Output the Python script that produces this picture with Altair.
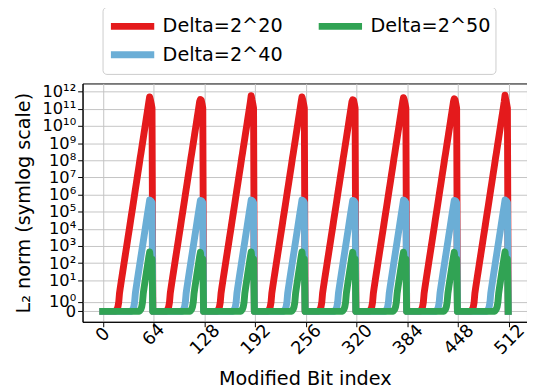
import math
import altair as alt
import pandas as pd

# ---------------- data ----------------
series_names = ["Delta=2^20", "Delta=2^40", "Delta=2^50"]
series_colors = ["#e41a1c", "#6baed6", "#31a354"]

n_blocks = 8
block_len = 64
peak_bit = 59

# L2 norm per modified bit inside one 64-bit block
red_block = [0] * 17 + [
    0.12, 0.23, 0.47, 0.93, 1.9, 3.7, 7.5, 15, 30, 60, 120, 240, 480, 950,
    1.9e3, 3.8e3, 7.6e3, 1.5e4, 3.1e4, 6.1e4, 1.2e5, 2.4e5, 4.9e5, 9.8e5,
    2.0e6, 3.9e6, 7.8e6, 1.6e7, 3.1e7, 6.3e7, 1.3e8, 2.5e8, 5.0e8, 1.0e9,
    2.0e9, 4.0e9, 8.0e9, 1.6e10, 3.2e10, 6.4e10, 1.3e11, 2.6e11,
    5.0e11, 3.3e11, 2.0e11, 1.1e11, 0,
]
blue_block = [0] * 37 + [
    0.12, 0.23, 0.47, 0.93, 1.9, 3.7, 7.5, 15, 30, 60, 120, 240, 480, 950,
    1.9e3, 3.8e3, 7.6e3, 1.5e4, 3.1e4, 6.1e4, 1.2e5, 2.4e5,
    4.8e5, 4.4e5, 4.0e5, 3.4e5, 0,
]
green_block = [0] * 47 + [
    0.12, 0.23, 0.47, 0.93, 1.9, 3.7, 7.5, 15, 30, 60, 120, 240,
    450, 160, 170, 170, 0,
]
# peak value of each of the 8 blocks
red_peaks = [5.0e11, 3.5e11, 5.8e11, 4.9e11, 3.4e11, 4.5e11, 3.9e11, 6.2e11]
blue_peaks = [4.8e5, 4.6e5, 4.8e5, 4.8e5, 4.6e5, 4.8e5, 4.6e5, 4.9e5]
green_peaks = [450, 430, 450, 450, 430, 440, 430, 460]

x_ticks = [0, 64, 128, 192, 256, 320, 384, 448, 512]
y_tick_values = [0, 1e0, 1e1, 1e2, 1e3, 1e4, 1e5, 1e6, 1e7, 1e8, 1e9, 1e10, 1e11, 1e12]
y_tick_labels = ["10⁰", "10¹", "10²", "10³", "10⁴", "10⁵", "10⁶", "10⁷",
                 "10⁸", "10⁹", "10¹⁰", "10¹¹", "10¹²"]

assert len(red_block) == len(blue_block) == len(green_block) == block_len

# ---------------- build table ----------------
rows = []
for name, block, peaks in zip(series_names, [red_block, blue_block, green_block],
                              [red_peaks, blue_peaks, green_peaks]):
    for k in range(n_blocks):
        for b in range(block_len):
            v = peaks[k] if b == peak_bit else block[b]
            rows.append({"bit": k * block_len + b, "l2": v, "series": name})
df = pd.DataFrame(rows)

# matplotlib-like symlog (base 10, linthresh 2, linscale 1)
LT = 2.0
LS = 1.0 / (1.0 - 0.1)


def symlog(v):
    return v / LT * LS if v <= LT else LS + math.log10(v / LT)


y_tick_pos = [symlog(v) for v in y_tick_values]
offset = LS - math.log10(LT)
arr = "[" + ",".join("'%s'" % s for s in y_tick_labels) + "]"
label_expr = ("datum.value < 0.2 ? '0' : (datum.value < 0.8 ? '10⁰' : %s[round(datum.value - %.6f)])"
              % (arr, offset))

calc = ("datum.l2 <= %g ? datum.l2 / %g * %.10f : %.10f + log(datum.l2 / %g) / LN10"
        % (LT, LT, LS, LS, LT))

FONT = "DejaVu Sans"

x_enc = alt.X(
    "bit:Q",
    scale=alt.Scale(domain=[-25.57, 534.7], nice=False, zero=False),
    axis=alt.Axis(
        values=x_ticks,
        title="Modified Bit index",
        titleY=64,
        titleBaseline="alphabetic",
        labelAngle=315,
        labelAlign="center",
        labelBaseline="middle",
        labelFontSize=18,
        labelPadding={"condition": {"test": "datum.value >= 100", "value": 13}, "value": 8},
        labelOffset={"condition": {"test": "datum.value >= 100", "value": 0.5}, "value": 0},
        labelOverlap=False,
        labelFlush=False,
    ),
)
y_enc = alt.Y(
    "yt:Q",
    scale=alt.Scale(domain=[-0.61, 13.29], nice=False, zero=False),
    axis=alt.Axis(
        values=y_tick_pos,
        labelExpr=label_expr,
        labelFontSize=16.5,
        title="\u00a0\u00a0\u00a0\u00a0L₂ norm (symlog scale)",
        titlePadding=9,
        labelPadding=2,
        labelOverlap=False,
        labelFlush=False,
    ),
)
color_enc = alt.Color(
    "series:N",
    scale=alt.Scale(domain=series_names, range=series_colors),
    legend=alt.Legend(
        title=None,
        orient="none",
        legendX=20.3,
        legendY=-77.7,
        columns=2,
        symbolType="M-2,0H2",
        symbolSize=484,
        symbolOffset=11,
        symbolStrokeWidth=7,
        labelFont=FONT,
        labelFontSize=19.5,
        labelColor="black",
        labelOffset=16,
        labelLimit=0,
        padding=5,
        rowPadding=-1,
        columnPadding=22,
        strokeColor="#cccccc",
        fillColor="white",
        cornerRadius=4,
    ),
)

base = alt.Chart(df).transform_calculate(yt=calc)
layers = [
    base.transform_filter(alt.datum.series == name)
    .mark_line(strokeWidth=7, strokeCap="square", strokeJoin="round", clip=True)
    .encode(x=x_enc, y=y_enc, color=color_enc)
    for name in series_names
]

chart = (
    alt.layer(*layers)
    .properties(
        width=451.3,
        height=242,
        autosize=alt.AutoSizeParams(type="none"),
        padding={"left": 75.7, "top": 73.7, "right": 0, "bottom": 66},
    )
    .configure_view(stroke="black", strokeWidth=1)
    .configure_axis(
        domainColor="black",
        tickColor="black",
        tickSize=5,
        gridColor="#c4c4c4",
        gridWidth=1,
        labelFont=FONT,
        labelColor="black",
        titleFont=FONT,
        titleFontSize=19.5,
        titleFontWeight="normal",
        titleColor="black",
    )
)

chart.save("out.html", embed_options={"renderer": "svg", "actions": False})
